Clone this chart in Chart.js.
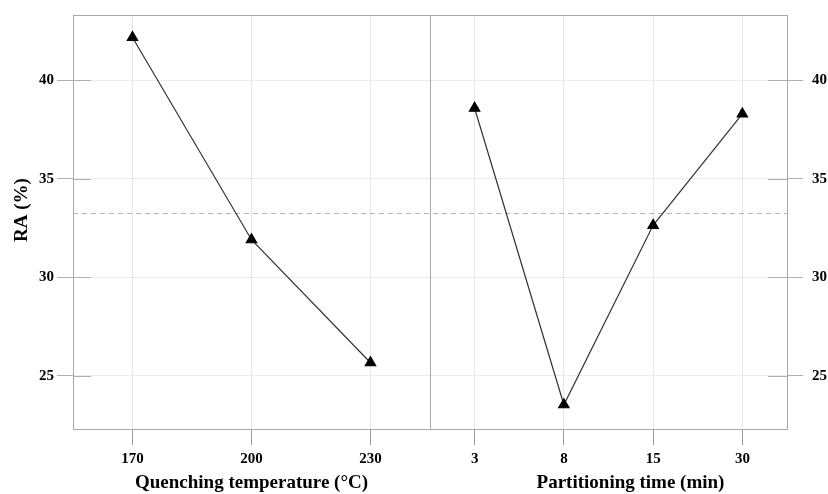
<!DOCTYPE html>
<html>
<head>
<meta charset="utf-8">
<script src="https://cdn.jsdelivr.net/npm/chart.js@4.4.0/dist/chart.umd.min.js"></script>
<style>
  body { margin: 0; background: #fff; }
  #wrap { width: 828px; height: 494px; }
</style>
</head>
<body>
<div id="wrap"><canvas id="myChart"></canvas></div>
<script>
// Factor levels and mean RA (%)
var tempLabels = ['170', '200', '230'];
var tempValues = [42.16, 31.9, 25.66];
var timeLabels = ['3', '8', '15', '30'];
var timeValues = [38.57, 23.53, 32.63, 38.28];
var yTicks = [25, 30, 35, 40];
var yMin = 22.3;
var yMax = 43.3;

// grand mean for the dashed reference line
var allValues = tempValues.concat(timeValues);
var grandMean = allValues.reduce(function (a, b) { return a + b; }, 0) / allValues.length;

var serif = 'Liberation Serif, Times New Roman, serif';
var tickFont = { family: serif, size: 15, weight: 'bold' };
var titleFont = { family: serif, size: 19, weight: 'bold' };

// frame, panel divider, mean line and inner tick stubs
var framePlugin = {
  id: 'frame',
  beforeDatasetsDraw: function (chart) {
    var ctx = chart.ctx;
    var a = chart.chartArea;
    var y = chart.scales.y;
    ctx.save();
    ctx.lineWidth = 1;

    // mean line
    var my = Math.round(y.getPixelForValue(grandMean)) + 0.5;
    ctx.strokeStyle = '#b4b4b4';
    ctx.setLineDash([5, 4]);
    ctx.beginPath();
    ctx.moveTo(a.left, my);
    ctx.lineTo(a.right, my);
    ctx.stroke();
    ctx.setLineDash([]);

    // inner tick stubs
    ctx.strokeStyle = '#b0b0b0';
    yTicks.forEach(function (v) {
      var py = Math.round(y.getPixelForValue(v)) + 0.5;
      ctx.beginPath();
      ctx.moveTo(a.left, py);
      ctx.lineTo(a.left + 18, py);
      ctx.moveTo(a.right - 19, py);
      ctx.lineTo(a.right, py);
      ctx.stroke();
    });

    // frame + divider
    ctx.strokeStyle = '#a8a8a8';
    ctx.strokeRect(Math.round(a.left) + 0.5, Math.round(a.top) + 0.5,
                   Math.round(a.width), Math.round(a.height));
    var xm = Math.round(chart.scales.x.right) + 0.5;
    ctx.beginPath();
    ctx.moveTo(xm, a.top);
    ctx.lineTo(xm, a.bottom);
    ctx.stroke();
    ctx.restore();
  },
  // the y title and the right-hand x title sit off-centre in the original
  afterDraw: function (chart) {
    var ctx = chart.ctx;
    var a = chart.chartArea;
    var x2 = chart.scales.x2;
    ctx.save();
    ctx.fillStyle = '#000';
    ctx.font = 'bold 19px ' + serif;
    ctx.textAlign = 'center';
    ctx.textBaseline = 'middle';
    ctx.fillText('Partitioning time (min)', (x2.left + x2.right) / 2 + 22, 483);
    ctx.translate(22, (a.top + a.bottom) / 2 - 12);
    ctx.rotate(-Math.PI / 2);
    ctx.fillText('RA (%)', 0, 0);
    ctx.restore();
  }
};

var ctx = document.getElementById('myChart').getContext('2d');

var data = {
  datasets: [
    {
      label: 'Quenching temperature',
      data: tempValues,
      xAxisID: 'x',
      yAxisID: 'y',
      borderColor: '#333333',
      borderWidth: 1.2,
      pointStyle: 'triangle',
      pointRadius: 6,
      pointBackgroundColor: '#000000',
      pointBorderColor: '#000000',
      tension: 0
    },
    {
      label: 'Partitioning time',
      data: timeValues,
      xAxisID: 'x2',
      yAxisID: 'y',
      borderColor: '#333333',
      borderWidth: 1.2,
      pointStyle: 'triangle',
      pointRadius: 6,
      pointBackgroundColor: '#000000',
      pointBorderColor: '#000000',
      tension: 0
    }
  ]
};

function xAxis(labels, title) {
  return {
    type: 'category',
    position: 'bottom',
    stack: 'panels',
    stackWeight: 1,
    labels: labels,
    offset: true,
    border: { display: false },
    grid: { color: '#e6e6e6', tickColor: '#999999', tickLength: 16, offset: false },
    ticks: { color: '#000', font: tickFont, padding: 5, maxRotation: 0 },
    title: { display: !!title, text: title || '', color: '#000', font: titleFont, padding: { top: 2, bottom: 0 } },
    afterFit: function (s) { s.height = 65; }
  };
}

// fixed widths, and no extra label padding pushing the plot area down
function fixWidth(w) {
  return function (s) {
    s.width = w;
    s.paddingTop = 0;
    s.paddingBottom = 0;
  };
}

var options = {
  responsive: true,
  maintainAspectRatio: false,
  animation: false,
  layout: { padding: { top: 15, left: 0, right: 0, bottom: 0 } },
  plugins: { legend: { display: false }, tooltip: { enabled: false } },
  scales: {
    x: xAxis(tempLabels, 'Quenching temperature (\u00B0C)'),
    x2: xAxis(timeLabels, null),
    y: {
      position: 'left',
      min: yMin,
      max: yMax,
      border: { display: false },
      grid: { color: '#ececec', tickColor: '#b0b0b0', tickLength: 16 },
      ticks: { color: '#000', font: tickFont, padding: 3 },
      afterBuildTicks: function (s) { s.ticks = yTicks.map(function (v) { return { value: v }; }); },
      afterFit: fixWidth(73)
    },
    y2: {
      position: 'right',
      min: yMin,
      max: yMax,
      border: { display: false },
      grid: { drawOnChartArea: false, tickColor: '#b0b0b0', tickLength: 16 },
      ticks: { color: '#000', font: tickFont, padding: 9 },
      afterBuildTicks: function (s) { s.ticks = yTicks.map(function (v) { return { value: v }; }); },
      afterFit: fixWidth(41)
    }
  }
};

var myChart = new Chart(ctx, {
  type: 'line',
  data: data,
  options: options,
  plugins: [framePlugin]
});
</script>
</body>
</html>
